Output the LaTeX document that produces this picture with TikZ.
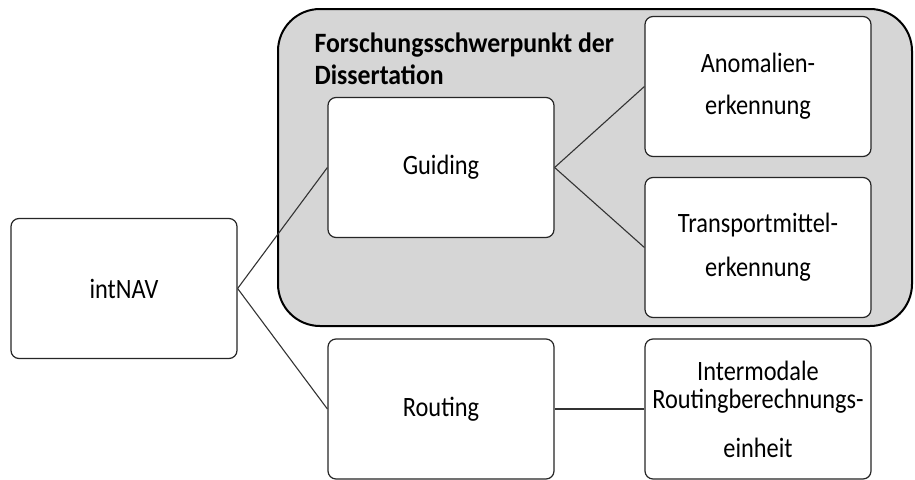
\documentclass[tikz,border=0pt]{standalone}
\usepackage{fontspec}
\setmainfont{Carlito}[FakeStretch=0.87, BoldFeatures={FakeStretch=0.92}]
\begin{document}
\begin{tikzpicture}[x=1pt,y=-1pt,
  box/.style={draw=black!85, line width=1.2pt, rounded corners=8pt, fill=white,
    minimum width=226pt, minimum height=140pt, inner sep=0pt, align=center,
    font=\fontsize{28}{42}\selectfont},
  link/.style={draw=black!80, line width=1.1pt},
  region/.style={draw=black, line width=2pt, fill=black!16, rounded corners=42pt}]
\useasboundingbox (0,0) rectangle (915,479);
\draw[region] (278,9) rectangle (912,326);
\node[anchor=base west, align=left, font=\bfseries\fontsize{28}{32}\selectfont] (title) at (311,84)
  {Forschungsschwerpunkt der\\Dissertation};
\node[box] (nav) at (124,288.5) {intNAV};
\node[box] (guid) at (441,167.5) {Guiding};
\node[box] (rout) at (441,409) {Routing};
\node[box] (anom) at (758,86.5) {Anomalien-\\erkennung};
\node[box, font=\fontsize{28}{44}\selectfont] (trans) at (758,247.5) {Transportmittel-\\erkennung};
\node[box, font=\fontsize{28}{28}\selectfont] (inter) at (758,409) {Intermodale\\Routingberechnungs-\\[21pt]einheit};
\draw[link] (nav.east) -- (guid.west);
\draw[link] (nav.east) -- (rout.west);
\draw[link] (guid.east) -- (anom.west);
\draw[link] (guid.east) -- (trans.west);
\draw[link] (rout.east) -- (inter.west);
\end{tikzpicture}
\end{document}
